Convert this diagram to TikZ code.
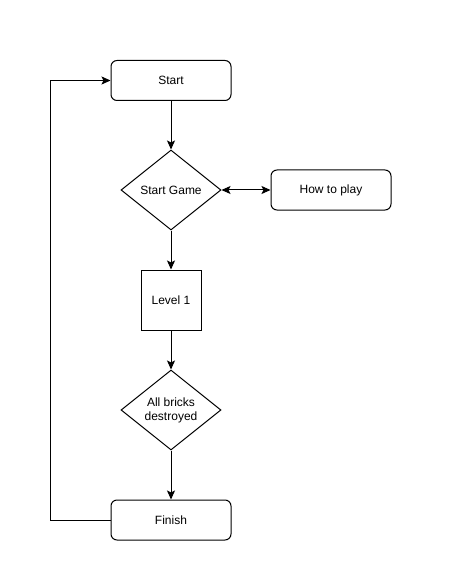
\documentclass[tikz,border=0pt]{standalone}
\usepackage{fontspec}
\setmainfont{Liberation Sans}
\usetikzlibrary{arrows.meta,shapes.geometric}

\begin{document}
\begin{tikzpicture}[x=1pt, y=-1pt, >={Stealth[length=9pt,width=8pt,inset=2pt]}, line width=1pt,
  font=\fontsize{12}{14}\selectfont,
  roundbox/.style={draw, rounded corners=6pt, minimum width=120pt, minimum height=40pt, inner sep=0pt},
  squarebox/.style={draw, minimum width=60pt, minimum height=60pt, inner sep=0pt},
  decision/.style={draw, diamond, aspect=1.25, minimum width=100pt, minimum height=80pt, inner sep=0pt, align=center}]
  \useasboundingbox (0,0) rectangle (475,585);
  \node[roundbox] (start) at (171,80.5) {Start};
  \node[decision] (game) at (171,190) {Start Game};
  \node[roundbox] (howto) at (331,190) {How to play};
  \node[squarebox] (level) at (171,300) {Level 1};
  \node[decision] (bricks) at (171,410) {All bricks\\destroyed};
  \node[roundbox] (finish) at (171,520) {Finish};
  \draw[->] (start) -- (game);
  \draw[<->] (game) -- (howto);
  \draw[->] (game) -- (level);
  \draw[->] (level) -- (bricks);
  \draw[->] (bricks) -- (finish);
  \draw[->] (finish.west) -- ++(-60,0) |- (start.west);
\end{tikzpicture}
\end{document}
